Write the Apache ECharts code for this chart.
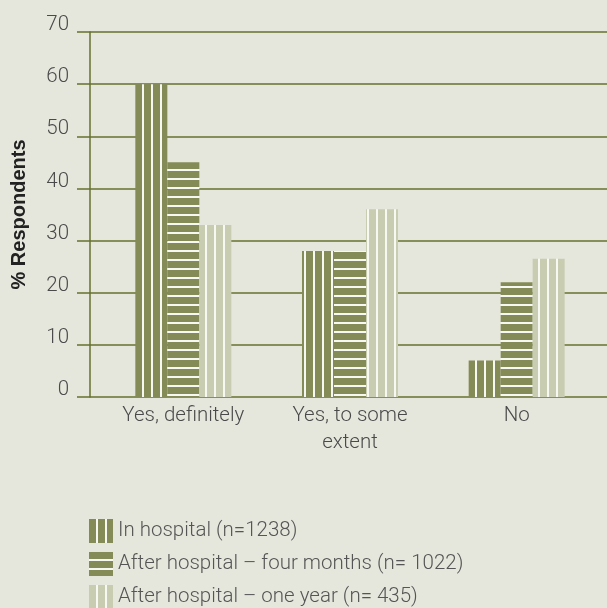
<!DOCTYPE html>
<html>
<head>
<meta charset="utf-8">
<script src="https://cdn.jsdelivr.net/npm/echarts@6/dist/echarts.min.js"></script>
<style>
html,body{margin:0;padding:0;background:#e6e7dc;}
#chart{width:607px;height:608px;}
</style>
</head>
<body>
<div id="chart"></div>
<script>
const categories = ['Yes, definitely', 'Yes, to some\nextent', 'No'];
const seriesNames = ['In hospital (n=1238)', 'After hospital \u2013 four months (n= 1022)', 'After hospital \u2013 one year (n= 435)'];
const inHospital = [60, 28, 7];
const fourMonths = [45, 28, 22];
const oneYear = [33, 36, 26.5];
const yTicks = [0, 10, 20, 30, 40, 50, 60, 70];

const OLIVE = '#858b57';
const LIGHT = '#c8cdb1';
const GRID = '#66702e';
const FONT = 'Roboto';
const FW = 300;

function stripes(bg, vertical) {
  const c = document.createElement('canvas');
  c.width = 9; c.height = 9;
  const ctx = c.getContext('2d');
  ctx.fillStyle = bg; ctx.fillRect(0, 0, 9, 9);
  ctx.fillStyle = '#f8f8f2';
  if (vertical) ctx.fillRect(7, 0, 2, 9); else ctx.fillRect(0, 7, 9, 2);
  return { image: c, repeat: 'repeat' };
}

const chart = echarts.init(document.getElementById('chart'), null, { renderer: 'canvas' });
chart.setOption({
  backgroundColor: '#e6e7dc',
  animation: false,
  textStyle: { fontFamily: FONT },
  grid: [
    { left: 100, right: 7, top: 32, bottom: 211 },
    { left: 90, right: 0, top: 32, bottom: 211 }
  ],
  legend: {
    orient: 'vertical', left: 89, top: 519, padding: 0, height: 120,
    itemWidth: 24, itemHeight: 24, itemGap: 9,
    icon: 'rect',
    textStyle: { fontFamily: FONT, fontWeight: FW, fontSize: 20.5, color: '#555' },
    data: seriesNames
  },
  xAxis: [
    {
      type: 'category', gridIndex: 0, data: categories,
      axisLine: { show: false }, axisTick: { show: false },
      axisLabel: { fontFamily: FONT, fontWeight: FW, fontSize: 20.5, color: '#4a4a4a', lineHeight: 27, margin: 5, interval: 0 }
    },
    { type: 'value', gridIndex: 1, show: false, min: 0, max: 1 }
  ],
  yAxis: [
    { type: 'value', gridIndex: 0, min: 0, max: 70, interval: 10, show: false },
    {
      type: 'value', gridIndex: 1, min: 0, max: 70, interval: 10,
      name: '% Respondents', nameLocation: 'middle', nameRotate: 90, nameGap: 61,
      nameTextStyle: { fontFamily: 'Liberation Sans', fontWeight: 'bold', fontSize: 20, color: '#222' },
      axisLine: { show: true, lineStyle: { color: GRID, width: 1.5 } },
      axisTick: { show: true, length: 13, lineStyle: { color: GRID, width: 1.5 } },
      splitLine: { show: true, lineStyle: { color: GRID, width: 1.5 } },
      axisLabel: {
        fontFamily: FONT, fontWeight: FW, fontSize: 20.5, color: '#4a4a4a', margin: 21,
        verticalAlign: 'bottom', lineHeight: 14,
        formatter: v => yTicks.includes(v) ? String(v) : ''
      }
    }
  ],
  series: [
    { name: seriesNames[0], type: 'bar', xAxisIndex: 0, yAxisIndex: 0, data: inHospital, barWidth: 32, barGap: '0%', itemStyle: { color: stripes(OLIVE, true) } },
    { name: seriesNames[1], type: 'bar', xAxisIndex: 0, yAxisIndex: 0, data: fourMonths, barWidth: 32, barGap: '0%', itemStyle: { color: stripes(OLIVE, false) } },
    { name: seriesNames[2], type: 'bar', xAxisIndex: 0, yAxisIndex: 0, data: oneYear, barWidth: 32, barGap: '0%', itemStyle: { color: stripes(LIGHT, true) } }
  ]
});
</script>
</body>
</html>
